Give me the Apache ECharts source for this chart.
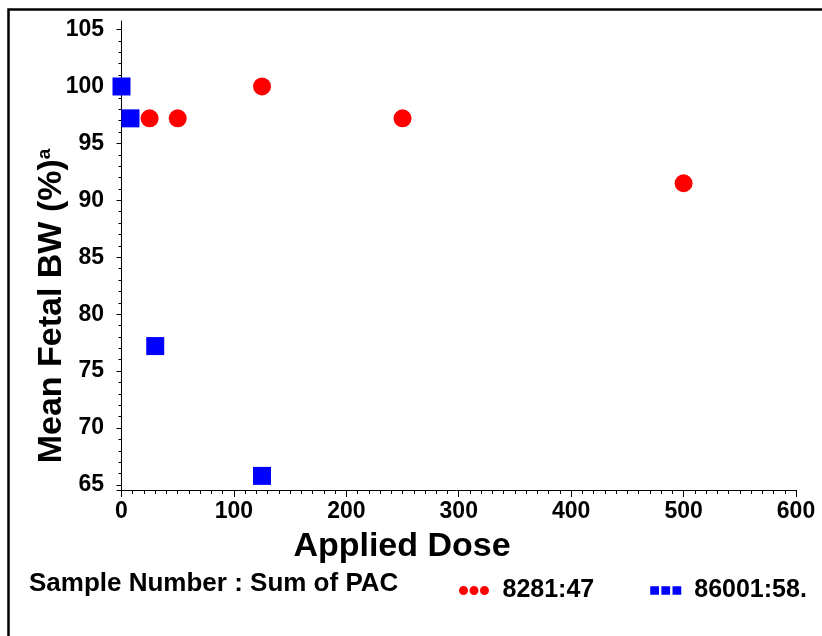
<!DOCTYPE html>
<html>
<head>
<meta charset="utf-8">
<script src="https://cdn.jsdelivr.net/npm/echarts@6/dist/echarts.min.js"></script>
<style>
  html, body { margin: 0; padding: 0; background: #fff; }
  #main { width: 822px; height: 636px; }
</style>
</head>
<body>
<div id="main"></div>
<script>
// data
var doseRed = [25, 50, 125, 250, 500];
var bwRed = [97.2, 97.2, 100, 97.2, 91.5];
var doseBlue = [0, 8, 30, 125];
var bwBlue = [100, 97.2, 77.2, 65.8];

var xMajor = [0, 100, 200, 300, 400, 500, 600];
var yMajor = [65, 70, 75, 80, 85, 90, 95, 100, 105];

var seriesNames = ['8281:47', '86001:58.'];

function pairs(xs, ys) {
  var out = [];
  for (var i = 0; i < xs.length; i++) out.push([xs[i], ys[i]]);
  return out;
}
function minors(from, to, step, majorStep) {
  var out = [];
  for (var v = from; v <= to + 1e-9; v += step) {
    if (Math.abs(v / majorStep - Math.round(v / majorStep)) > 1e-6) out.push(v);
  }
  return out;
}

var font = '"Liberation Sans", Arial, sans-serif';
var xMin = -4, xMax = 600, yMin = 64.56, yMax = 105.75;

var chart = echarts.init(document.getElementById('main'));
var option = {
  animation: false,
  backgroundColor: '#fff',
  textStyle: { fontFamily: font },
  grid: { left: 117, right: 26, top: 21, bottom: 146, outerBoundsMode: 'none' },
  xAxis: [
    {
      type: 'value', position: 'bottom', min: xMin, max: xMax,
      axisLine: { show: true, lineStyle: { color: '#000', width: 1 } },
      axisTick: { show: true, length: 7, customValues: xMajor, lineStyle: { color: '#000' } },
      axisLabel: { customValues: xMajor, color: '#000', fontSize: 23, fontWeight: 'bold', fontFamily: font, margin: 10 },
      splitLine: { show: false }
    },
    {
      type: 'value', position: 'bottom', min: xMin, max: xMax,
      axisLine: { show: false },
      axisTick: { show: true, length: 4, customValues: minors(0, 600, 10, 100), lineStyle: { color: '#000' } },
      axisLabel: { show: false },
      splitLine: { show: false }
    }
  ],
  yAxis: [
    {
      type: 'value', position: 'left', min: yMin, max: yMax,
      axisLine: { show: true, lineStyle: { color: '#000', width: 1 } },
      axisTick: { show: true, length: 5, customValues: yMajor, lineStyle: { color: '#000' } },
      axisLabel: { customValues: yMajor, color: '#000', fontSize: 23, fontWeight: 'bold', fontFamily: font, margin: 13 },
      splitLine: { show: false }
    },
    {
      type: 'value', position: 'left', min: yMin, max: yMax,
      axisLine: { show: false },
      axisTick: { show: true, length: 3, customValues: minors(65, 105, 1, 5), lineStyle: { color: '#000' } },
      axisLabel: { show: false },
      splitLine: { show: false }
    }
  ],
  legend: {
    left: 454, top: 573,
    itemWidth: 31, itemHeight: 9, itemGap: 56,
    selectedMode: false,
    textStyle: { color: '#000', fontSize: 25, fontWeight: 'bold', fontFamily: font, padding: [0, 0, 0, 8] },
    data: [
      { name: seriesNames[0], icon: 'path://M0,4.5a4.5,4.5 0 1,0 9,0a4.5,4.5 0 1,0 -9,0zM10.5,4.5a4.5,4.5 0 1,0 9,0a4.5,4.5 0 1,0 -9,0zM21,4.5a4.5,4.5 0 1,0 9,0a4.5,4.5 0 1,0 -9,0z' },
      { name: seriesNames[1], icon: 'path://M0,0h9v9h-9zM11.5,0h9v9h-9zM23,0h9v9h-9z' }
    ]
  },
  graphic: [
    {
      type: 'polyline', silent: true,
      shape: { points: [[8.5, 636], [8.5, 9.5], [822, 9.5]] },
      style: { stroke: '#000', lineWidth: 2.5, fill: null }
    },
    {
      type: 'text', silent: true, x: 29, y: 584,
      style: { text: 'Sample Number : Sum of PAC', fill: '#000', font: 'bold 26px ' + font, verticalAlign: 'middle', align: 'left' }
    },
    {
      type: 'text', silent: true, x: 402, y: 547,
      style: { text: 'Applied Dose', fill: '#000', font: 'bold 34px ' + font, verticalAlign: 'middle', align: 'center' }
    },
    {
      type: 'text', silent: true, x: 52, y: 306, rotation: Math.PI / 2,
      style: {
        text: '{n|Mean Fetal BW (%)}{s|a}',
        align: 'center', verticalAlign: 'middle',
        rich: {
          n: { fill: '#000', fontSize: 34, fontWeight: 'bold', fontFamily: font },
          s: { fill: '#000', fontSize: 19, fontWeight: 'bold', fontFamily: font, verticalAlign: 'top' }
        }
      }
    }
  ],
  series: [
    {
      name: seriesNames[0], type: 'scatter', xAxisIndex: 0, yAxisIndex: 0,
      symbol: 'circle', symbolSize: 18,
      itemStyle: { color: '#ff0000', opacity: 1 },
      data: pairs(doseRed, bwRed)
    },
    {
      name: seriesNames[1], type: 'scatter', xAxisIndex: 0, yAxisIndex: 0,
      symbol: 'rect', symbolSize: 18,
      itemStyle: { color: '#0000ff', opacity: 1 },
      data: pairs(doseBlue, bwBlue)
    }
  ]
};
chart.setOption(option);
</script>
</body>
</html>
